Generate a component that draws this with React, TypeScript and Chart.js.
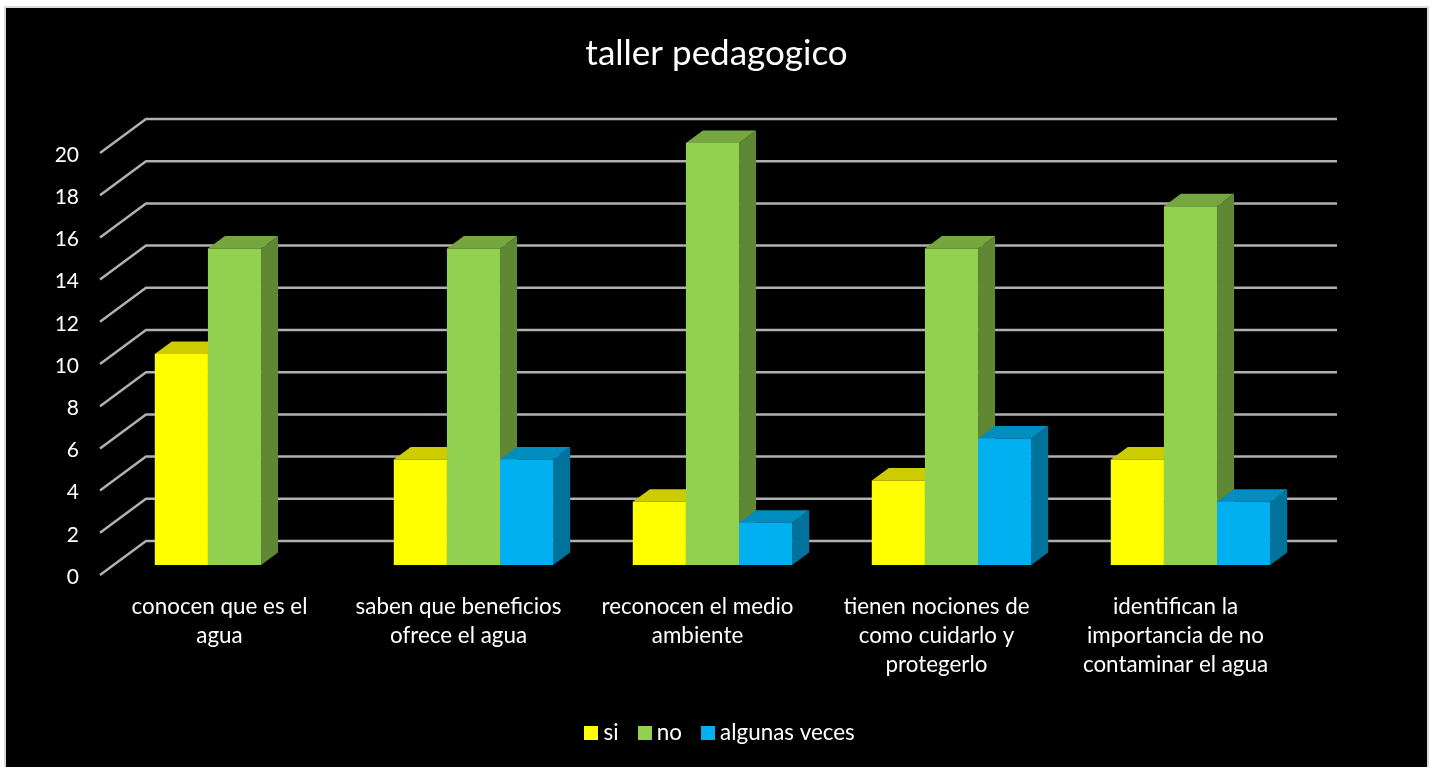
import React, { useEffect, useRef } from "react";
import { Chart, registerables } from "chart.js";

Chart.register(...registerables);

const titleText = "taller pedagogico";
const categories = [
  ["conocen que es el", "agua"],
  ["saben que beneficios", "ofrece el agua"],
  ["reconocen el medio", "ambiente"],
  ["tienen nociones de", "como cuidarlo y", "protegerlo"],
  ["identifican la", "importancia de no", "contaminar el agua"],
];
const siValues = [10, 5, 3, 4, 5];
const noValues = [15, 15, 20, 15, 17];
const algunasValues = [null, 5, 2, 6, 3];

const FONT = "Lato";
const TEXT = "#ffffff";
const DEPTH_X = 17;
const DEPTH_Y = 12.5;
const LEGEND_PADDING = 25;
const LEGEND_SIZE = 22.4;

const faces = [
  { front: "#ffff00", top: "#cccc00", side: "#a6a600" },
  { front: "#92d050", top: "#75a640", side: "#5f8734" },
  { front: "#00b0f0", top: "#008dc0", side: "#00729c" },
];

function swatch(color: string) {
  const c = document.createElement("canvas");
  c.width = 14;
  c.height = 14;
  const g = c.getContext("2d") as CanvasRenderingContext2D;
  g.fillStyle = color;
  g.fillRect(0, 0, 14, 14);
  return c;
}

const frame3d = {
  id: "frame3d",
  beforeDraw(chart: any) {
    const { ctx, width, height } = chart;
    ctx.save();
    ctx.fillStyle = "#ffffff";
    ctx.fillRect(0, 0, width, height);
    ctx.fillStyle = "#d9d9d9";
    ctx.fillRect(4, 6, width - 8, height - 6);
    ctx.fillStyle = "#000000";
    ctx.fillRect(6, 8, width - 12, height - 8);
    ctx.restore();
  },
  afterLayout(chart: any) {
    const l = chart.legend;
    if (l) {
      const h = l.bottom - l.top;
      l.left += 6;
      l.right += 6;
      l.top = 733 - LEGEND_PADDING - LEGEND_SIZE / 2;
      l.bottom = l.top + h;
    }
  },
  beforeDatasetsDraw(chart: any) {
    const { ctx } = chart;
    const y = chart.scales.y;
    ctx.save();
    ctx.strokeStyle = "#b0b0b0";
    ctx.lineWidth = 2.5;
    ctx.lineJoin = "round";
    y.ticks.forEach((t: any) => {
      const p = y.getPixelForValue(t.value);
      ctx.beginPath();
      ctx.moveTo(100, p + 10);
      ctx.lineTo(146, p - 24);
      ctx.lineTo(1337, p - 24);
      ctx.stroke();
    });
    chart.data.datasets.forEach((ds: any, di: number) => {
      const meta = chart.getDatasetMeta(di);
      meta.data.forEach((bar: any, i: number) => {
        if (ds.data[i] == null) return;
        const right = bar.x + bar.width / 2;
        const left = bar.x - bar.width / 2;
        const top = bar.y;
        const base = bar.base;
        ctx.fillStyle = faces[di].side;
        ctx.beginPath();
        ctx.moveTo(right, top);
        ctx.lineTo(right + DEPTH_X, top - DEPTH_Y);
        ctx.lineTo(right + DEPTH_X, base - DEPTH_Y);
        ctx.lineTo(right, base);
        ctx.closePath();
        ctx.fill();
        ctx.fillStyle = faces[di].top;
        ctx.beginPath();
        ctx.moveTo(left, top);
        ctx.lineTo(left + DEPTH_X, top - DEPTH_Y);
        ctx.lineTo(right + DEPTH_X, top - DEPTH_Y);
        ctx.lineTo(right, top);
        ctx.closePath();
        ctx.fill();
      });
    });
    ctx.restore();
  },
};

export default function App() {
  const ref = useRef<HTMLCanvasElement | null>(null);
  useEffect(() => {
    const chart = new Chart(ref.current as HTMLCanvasElement, {
      type: "bar",
      plugins: [frame3d],
      data: {
        labels: categories as any,
        datasets: [
          { label: "si", data: siValues, backgroundColor: faces[0].front, pointStyle: swatch(faces[0].front) },
          { label: "no", data: noValues, backgroundColor: faces[1].front, pointStyle: swatch(faces[1].front) },
          { label: "algunas veces", data: algunasValues as any, backgroundColor: faces[2].front, pointStyle: swatch(faces[2].front) },
        ],
      },
      options: {
        animation: false,
        responsive: false,
        events: [],
        categoryPercentage: 0.667,
        barPercentage: 1,
        layout: { padding: 0 },
        plugins: {
          tooltip: { enabled: false },
          title: {
            display: true,
            text: titleText,
            color: TEXT,
            font: { family: FONT, size: 35, weight: "normal", lineHeight: 1.2 },
            padding: { top: 33, bottom: 68 },
          },
          legend: {
            position: "bottom",
            labels: {
              color: TEXT,
              font: { family: FONT, size: LEGEND_SIZE },
              usePointStyle: true,
              pointStyleWidth: 2,
              boxHeight: 14,
              padding: LEGEND_PADDING,
              generateLabels(chart: any) {
                return chart.data.datasets.map((ds: any, i: number) => ({
                  text: ds.label,
                  pointStyle: ds.pointStyle,
                  fillStyle: ds.backgroundColor,
                  strokeStyle: ds.backgroundColor,
                  lineWidth: 0,
                  fontColor: TEXT,
                  datasetIndex: i,
                  hidden: false,
                }));
              },
            },
          },
        },
        scales: {
          x: {
            grid: { display: false, drawTicks: false },
            border: { display: false },
            ticks: {
              color: TEXT,
              font: { family: FONT, size: 22.4, lineHeight: 1.295 },
              padding: 27.5,
              labelOffset: -15,
              autoSkip: false,
              maxRotation: 0,
              minRotation: 0,
            },
            afterFit(scale: any) {
              scale.height = 767 - 565 - scale.chart.legend.height;
            },
          },
          y: {
            min: 0,
            max: 20,
            grid: { display: false, drawTicks: false },
            border: { display: false },
            ticks: {
              stepSize: 2,
              color: TEXT,
              font: { family: FONT, size: 21 },
              padding: 36,
              labelOffset: 12,
            },
            afterFit(scale: any) {
              scale.width = 115;
            },
          },
          yRight: {
            position: "right",
            display: true,
            grid: { display: false, drawTicks: false },
            border: { display: false },
            ticks: { display: false },
            afterFit(scale: any) {
              scale.width = 123;
            },
          },
        },
      } as any,
    });
    return () => chart.destroy();
  }, []);
  return (
    <div style={{ position: "absolute", left: 0, top: 0, width: 1433, height: 767 }}>
      <canvas ref={ref} width={1433} height={767} style={{ display: "block" }} />
    </div>
  );
}
